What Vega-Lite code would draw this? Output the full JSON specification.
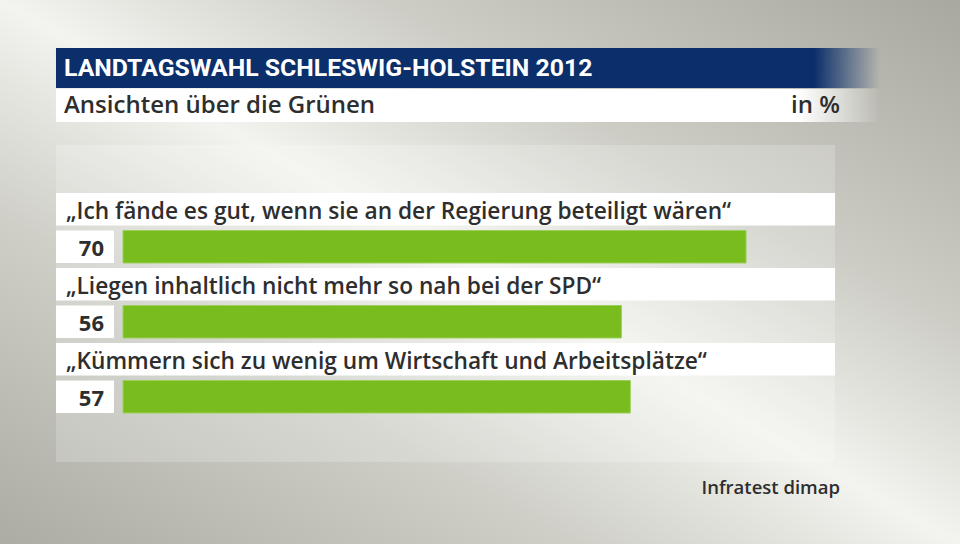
{
  "$schema": "https://vega.github.io/schema/vega-lite/v6.json",
  "width": 960,
  "height": 544,
  "autosize": {"type": "fit", "contains": "padding"},
  "padding": 0,
  "config": {
    "view": {
      "stroke": null,
      "fill": {
        "gradient": "linear",
        "x1": 1, "y1": 0, "x2": 0, "y2": 1,
        "stops": [
          {"offset": 0, "color": "#a8a89f"},
          {"offset": 0.3, "color": "#cdcdc6"},
          {"offset": 0.5, "color": "#f3f3ef"},
          {"offset": 0.7, "color": "#cfcfc8"},
          {"offset": 1, "color": "#acaca4"}
        ]
      }
    },
    "text": {"font": "Open Sans", "color": "#2e2e2e"}
  },
  "datasets": {
    "survey": [
      {"id": 1, "label": "„Ich fände es gut, wenn sie an der Regierung beteiligt wären“", "value": 70},
      {"id": 2, "label": "„Liegen inhaltlich nicht mehr so nah bei der SPD“", "value": 56},
      {"id": 3, "label": "„Kümmern sich zu wenig um Wirtschaft und Arbeitsplätze“", "value": 57}
    ],
    "one": [{}]
  },
  "layer": [
    {
      "data": {"name": "one"},
      "mark": {"type": "rect", "fill": "#ffffff", "fillOpacity": 0.2},
      "encoding": {
        "x": {"datum": -7.53, "type": "quantitative", "axis": null, "scale": {"domain": [-13.82, 94.04], "nice": false, "zero": false}},
        "x2": {"datum": 80},
        "y": {"value": 145},
        "y2": {"value": 462}
      }
    },
    {
      "data": {"name": "one"},
      "mark": {
        "type": "rect",
        "fill": {
          "gradient": "linear", "x1": 0, "y1": 0, "x2": 1, "y2": 0,
          "stops": [
            {"offset": 0, "color": "#0b2f6b"},
            {"offset": 0.92, "color": "#0b2f6b"},
            {"offset": 1, "color": "rgba(11,47,107,0)"}
          ]
        }
      },
      "encoding": {
        "x": {"datum": -7.53, "type": "quantitative", "axis": null},
        "x2": {"datum": 85.06},
        "y": {"value": 48},
        "y2": {"value": 88}
      }
    },
    {
      "data": {"name": "one"},
      "mark": {
        "type": "rect",
        "fill": {
          "gradient": "linear", "x1": 0, "y1": 0, "x2": 1, "y2": 0,
          "stops": [
            {"offset": 0, "color": "#ffffff"},
            {"offset": 0.9, "color": "#ffffff"},
            {"offset": 1, "color": "rgba(255,255,255,0)"}
          ]
        }
      },
      "encoding": {
        "x": {"datum": -7.53, "type": "quantitative", "axis": null},
        "x2": {"datum": 85.06},
        "y": {"value": 89},
        "y2": {"value": 122}
      }
    },
    {
      "data": {"name": "one"},
      "mark": {"type": "text", "align": "left", "baseline": "middle", "font": "Roboto", "fontWeight": "bold", "fontSize": 24.8, "color": "#ffffff"},
      "encoding": {
        "x": {"datum": -6.63, "type": "quantitative", "axis": null},
        "y": {"value": 69},
        "text": {"value": "LANDTAGSWAHL SCHLESWIG-HOLSTEIN 2012"}
      }
    },
    {
      "data": {"name": "one"},
      "mark": {"type": "text", "align": "left", "baseline": "middle", "fontWeight": 600, "fontSize": 24},
      "encoding": {
        "x": {"datum": -6.63, "type": "quantitative", "axis": null},
        "y": {"value": 106},
        "text": {"value": "Ansichten über die Grünen"}
      }
    },
    {
      "data": {"name": "one"},
      "mark": {"type": "text", "align": "right", "baseline": "middle", "fontWeight": 600, "fontSize": 24},
      "encoding": {
        "x": {"datum": 80.56, "type": "quantitative", "axis": null},
        "y": {"value": 106},
        "text": {"value": "in %"}
      }
    },
    {
      "data": {"name": "one"},
      "mark": {"type": "text", "align": "right", "baseline": "middle", "fontWeight": 600, "fontSize": 18.5},
      "encoding": {
        "x": {"datum": 80.56, "type": "quantitative", "axis": null},
        "y": {"value": 488},
        "text": {"value": "Infratest dimap"}
      }
    },
    {
      "data": {"name": "survey"},
      "mark": {"type": "bar", "color": "#ffffff"},
      "encoding": {
        "x": {"datum": -7.53, "type": "quantitative", "axis": null},
        "x2": {"datum": 80},
        "y": {"field": "id", "type": "ordinal", "axis": null, "scale": {"domain": [1, 2, 3], "range": [193, 413], "paddingInner": 0.0667, "paddingOuter": 0}},
        "yOffset": {"datum": "label", "type": "nominal", "scale": {"domain": ["label", "value"], "paddingInner": 0.1333, "paddingOuter": 0}}
      }
    },
    {
      "data": {"name": "survey"},
      "mark": {"type": "bar", "color": "#ffffff"},
      "encoding": {
        "x": {"datum": -7.53, "type": "quantitative", "axis": null},
        "x2": {"datum": -1.01},
        "y": {"field": "id", "type": "ordinal", "axis": null},
        "yOffset": {"datum": "value", "type": "nominal"}
      }
    },
    {
      "data": {"name": "survey"},
      "mark": {"type": "bar", "color": "#78bc1e", "stroke": "#9ccf5c", "strokeWidth": 1},
      "encoding": {
        "x": {"field": "value", "type": "quantitative", "axis": null},
        "x2": {"datum": 0},
        "y": {"field": "id", "type": "ordinal", "axis": null},
        "yOffset": {"datum": "value", "type": "nominal"}
      }
    },
    {
      "data": {"name": "survey"},
      "mark": {"type": "text", "align": "left", "baseline": "middle", "fontWeight": 600, "fontSize": 22.7, "dy": 3},
      "encoding": {
        "x": {"datum": -6.4, "type": "quantitative", "axis": null},
        "y": {"field": "id", "type": "ordinal", "axis": null},
        "yOffset": {"datum": "label", "type": "nominal"},
        "text": {"field": "label"}
      }
    },
    {
      "data": {"name": "survey"},
      "mark": {"type": "text", "align": "right", "baseline": "middle", "fontWeight": "bold", "fontSize": 22, "dy": 2},
      "encoding": {
        "x": {"datum": -2.13, "type": "quantitative", "axis": null},
        "y": {"field": "id", "type": "ordinal", "axis": null},
        "yOffset": {"datum": "value", "type": "nominal"},
        "text": {"field": "value", "type": "quantitative"}
      }
    }
  ]
}
